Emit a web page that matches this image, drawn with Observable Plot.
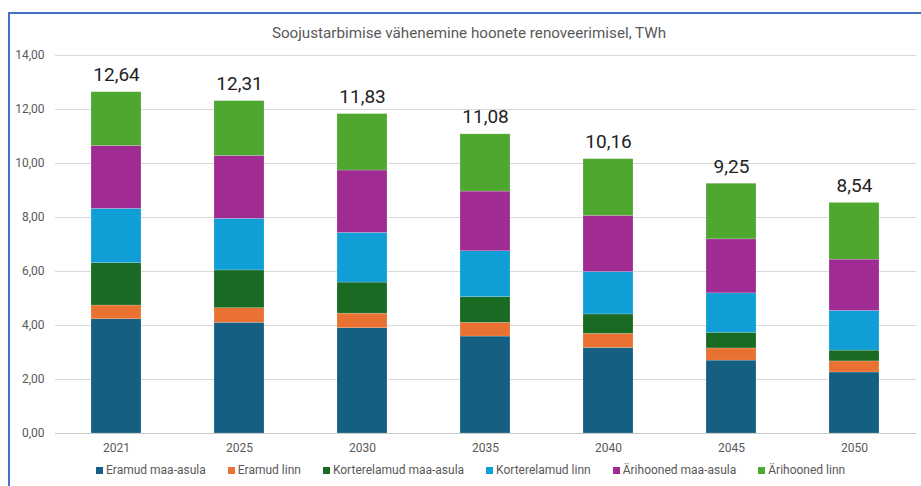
<!DOCTYPE html>
<html>
<head>
<meta charset="utf-8">
<script src="https://cdn.jsdelivr.net/npm/d3@7"></script>
<script src="https://cdn.jsdelivr.net/npm/@observablehq/plot@0.6"></script>
<style>
  html, body { margin: 0; padding: 0; background: #fff; overflow: hidden; }
  body { width: 921px; height: 486px; position: relative; font-family: Roboto, "Noto Sans", sans-serif; }
  #frame { position: absolute; left: 8px; top: 12px; width: 1000px; height: 1000px; border-top: 2px solid #4472C4; border-left: 2px solid #4472C4; box-sizing: border-box; }
  #title { position: absolute; left: 0; top: 24px; width: 938px; text-align: center; font-size: 15.2px; color: #595959; line-height: 18px; }
  #chart { position: absolute; left: 0; top: 0; }
  #legend { position: absolute; left: 96px; top: 462px; display: flex; gap: 22px; font-size: 12px; color: #595959; line-height: 16px; white-space: nowrap; }
  .item { display: flex; align-items: center; }
  .sw { width: 7px; height: 7px; margin-right: 3px; }
</style>
</head>
<body>
<div id="frame"></div>
<div id="title">Soojustarbimise vähenemine hoonete renoveerimisel, TWh</div>
<div id="chart"></div>
<div id="legend"></div>
<script>
const years = ["2021", "2025", "2030", "2035", "2040", "2045", "2050"];
const seriesNames = ["Eramud maa-asula", "Eramud linn", "Korterelamud maa-asula", "Korterelamud linn", "Ärihooned maa-asula", "Ärihooned linn"];
const seriesColors = ["#156082", "#E97132", "#196B24", "#0F9ED5", "#A02B93", "#4EA72E"];
const eramudMaaAsula = [4.23, 4.10, 3.90, 3.59, 3.17, 2.70, 2.26];
const eramudLinn = [0.51, 0.54, 0.54, 0.51, 0.52, 0.45, 0.41];
const korterelamudMaaAsula = [1.57, 1.40, 1.15, 0.95, 0.72, 0.58, 0.40];
const korterelamudLinn = [2.01, 1.91, 1.84, 1.70, 1.57, 1.46, 1.47];
const arihoonedMaaAsula = [2.33, 2.33, 2.31, 2.21, 2.08, 2.00, 1.90];
const arihoonedLinn = [1.99, 2.03, 2.09, 2.12, 2.10, 2.06, 2.10];
const totals = [12.64, 12.31, 11.83, 11.08, 10.16, 9.25, 8.54];
const yTicks = [0, 2, 4, 6, 8, 10, 12, 14];

const seriesValues = [eramudMaaAsula, eramudLinn, korterelamudMaaAsula, korterelamudLinn, arihoonedMaaAsula, arihoonedLinn];
const rows = [];
seriesNames.forEach((s, i) => years.forEach((y, j) => rows.push({year: y, series: s, value: seriesValues[i][j]})));
const totalRows = years.map((y, j) => ({year: y, total: totals[j]}));
const fmt = d => d.toFixed(2).replace(".", ",");

const chart = Plot.plot({
  width: 921,
  height: 486,
  marginLeft: 55,
  marginRight: 5,
  marginTop: 55,
  marginBottom: 53,
  style: {fontFamily: "Roboto, 'Noto Sans', sans-serif", background: "transparent", overflow: "visible"},
  x: {domain: years, paddingInner: 0.593, paddingOuter: 0.2965, label: null},
  y: {domain: [0, 14], label: null},
  color: {domain: seriesNames, range: seriesColors},
  marks: [
    Plot.gridY(yTicks, {stroke: "#d9d9d9", strokeOpacity: 1, strokeWidth: 1}),
    Plot.ruleY([0], {stroke: "#c8c8c8", strokeWidth: 1}),
    Plot.barY(rows, {x: "year", y: "value", fill: "series", order: seriesNames, stroke: "#ffffff", strokeOpacity: 0.35, strokeWidth: 0.5}),
    Plot.text(totalRows, {x: "year", y: "total", text: d => fmt(d.total), dy: -17, fontSize: 19, fill: "#222222"}),
    Plot.axisY({ticks: yTicks, tickFormat: fmt, tickSize: 0, tickPadding: 11, label: null, fontSize: 12, color: "#595959"}),
    Plot.axisX({tickSize: 0, tickPadding: 10, label: null, fontSize: 12, color: "#595959"})
  ]
});
document.getElementById("chart").appendChild(chart);

const legend = document.getElementById("legend");
seriesNames.forEach((s, i) => {
  const item = document.createElement("div");
  item.className = "item";
  const sw = document.createElement("span");
  sw.className = "sw";
  sw.style.background = seriesColors[i];
  const label = document.createElement("span");
  label.textContent = s;
  item.appendChild(sw);
  item.appendChild(label);
  legend.appendChild(item);
});
</script>
</body>
</html>
